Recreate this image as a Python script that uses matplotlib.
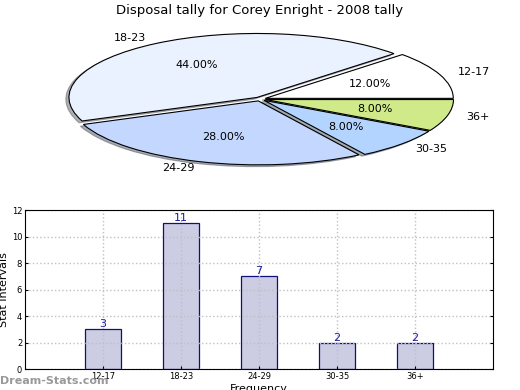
import matplotlib
matplotlib.use("Agg")
import matplotlib.pyplot as plt

categories = ["12-17", "18-23", "24-29", "30-35", "36+"]
counts = [3, 11, 7, 2, 2]
pie_colors = ["#ffffff", "#eaf1ff", "#c4d8ff", "#b3d4ff", "#d0ea8a"]
yticks = [0, 2, 4, 6, 8, 10, 12]

fig = plt.figure(figsize=(5.2, 3.9), dpi=100)

# pie (squashed into an ellipse like the original)
ax1 = fig.add_axes([0.048, 0.541, 0.904, 0.41])
wedges, texts, autotexts = ax1.pie(
    counts, labels=categories, colors=pie_colors, autopct="%.2f%%",
    explode=[0.03] * len(counts),
    shadow=dict(ox=-0.012, oy=-0.02, shade=0.6), startangle=0,
    labeldistance=1.1, pctdistance=0.6,
    wedgeprops=dict(edgecolor="black", linewidth=0.8),
    textprops=dict(fontsize=8))
ax1.set_aspect("auto")
ax1.set_xlim(-1.25, 1.25)
ax1.set_ylim(-1.25, 1.25)
fig.text(0.5, 0.973, "Disposal tally for Corey Enright - 2008 tally",
         ha="center", va="center", fontsize=9.5)

# bars
ax2 = fig.add_axes([0.048, 0.0538, 0.9, 0.4077])
x = list(range(len(categories)))
ax2.bar(x, counts, width=0.46, color="#cccce3", edgecolor="#10107a",
        linewidth=0.9, zorder=2)
for xi, c in zip(x, counts):
    ax2.text(xi, c, str(c), ha="center", va="bottom", fontsize=8,
             color="#1a1aa0", zorder=4)
ax2.set_xlim(-1, 5)
ax2.set_ylim(0, 12)
ax2.set_xticks(x)
ax2.set_xticklabels(categories)
ax2.set_yticks(yticks)
ax2.tick_params(labelsize=6, direction="in", length=2, pad=2, right=True)
ax2.grid(True, linestyle=":", color="#c0c0c0", linewidth=1, zorder=3)
ax2.set_axisbelow(False)
for sp in ax2.spines.values():
    sp.set_zorder(5)
ax2.set_ylabel("Stat Intervals", fontsize=8, labelpad=2)
ax2.set_xlabel("Frequency", fontsize=8, labelpad=2)

fig.text(0.0, 0.023, "Dream-Stats.com", fontsize=8, color="#999999",
         fontweight="bold", ha="left", va="center")

fig.savefig("out.png", dpi=100)
